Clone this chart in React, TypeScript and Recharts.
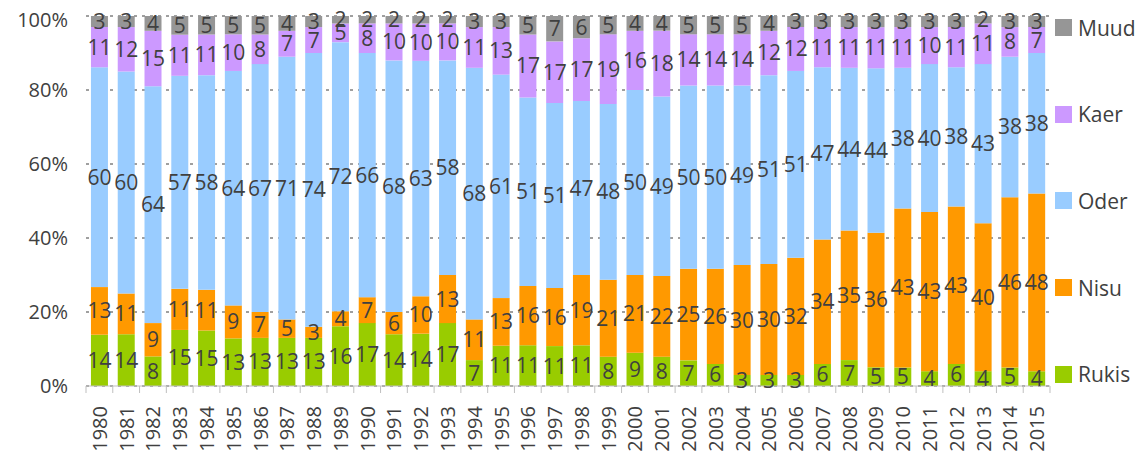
import React from "react";
import { BarChart, Bar, XAxis, YAxis, CartesianGrid, LabelList } from "recharts";

const years = ["1980","1981","1982","1983","1984","1985","1986","1987","1988","1989","1990","1991","1992","1993","1994","1995","1996","1997","1998","1999","2000","2001","2002","2003","2004","2005","2006","2007","2008","2009","2010","2011","2012","2013","2014","2015"];
const rukis = [14,14,8,15,15,13,13,13,13,16,17,14,14,17,7,11,11,11,11,8,9,8,7,6,3,3,3,6,7,5,5,4,6,4,5,4];
const nisu = [13,11,9,11,11,9,7,5,3,4,7,6,10,13,11,13,16,16,19,21,21,22,25,26,30,30,32,34,35,36,43,43,43,40,46,48];
const oder = [60,60,64,57,58,64,67,71,74,72,66,68,63,58,68,61,51,51,47,48,50,49,50,50,49,51,51,47,44,44,38,40,38,43,38,38];
const kaer = [11,12,15,11,11,10,8,7,7,5,8,10,10,10,11,13,17,17,17,19,16,18,14,14,14,12,12,11,11,11,11,10,11,11,8,7];
const muud = [3,3,4,5,5,5,5,4,3,2,2,2,2,2,3,3,5,7,6,5,4,4,5,5,5,4,3,3,3,3,3,3,3,2,3,3];
const yTicks = [0, 0.2, 0.4, 0.6, 0.8, 1];

const series = [
  { key: "Rukis", color: "#99CC00" },
  { key: "Nisu", color: "#FF9900" },
  { key: "Oder", color: "#99CCFF" },
  { key: "Kaer", color: "#CC99FF" },
  { key: "Muud", color: "#969696" },
];

const data = years.map((y, i) => ({
  year: y,
  Rukis: rukis[i],
  Nisu: nisu[i],
  Oder: oder[i],
  Kaer: kaer[i],
  Muud: muud[i],
}));

const FONT = "'Open Sans', 'Noto Sans', sans-serif";
const TEXT = "#404040";
const W = 1140;
const H = 453;
const M = { top: 8, right: 98, bottom: 5, left: 18 };
const Y_W = 60;
const PLOT_W = W - M.left - M.right - Y_W;
const STEP = PLOT_W / years.length;

const XTick = (props: any) => {
  const { x, y, payload, index } = props;
  const last = index === years.length - 1;
  return (
    <g>
      <line x1={x - STEP / 2} x2={x - STEP / 2} y1={y} y2={y + 7} stroke="#BFBFBF" />
      {last && <line x1={x + STEP / 2} x2={x + STEP / 2} y1={y} y2={y + 7} stroke="#BFBFBF" />}
      <text
        x={x}
        y={y + 20}
        transform={`rotate(-90, ${x}, ${y + 20})`}
        textAnchor="end"
        dominantBaseline="central"
        fill={TEXT}
        fontSize={20}
        fontFamily={FONT}
      >
        {payload.value}
      </text>
    </g>
  );
};

export default function App() {
  const legendItems = [...series].reverse();
  return (
    <div style={{ position: "relative", width: W, height: H }}>
      <BarChart
        width={W}
        height={H}
        data={data}
        stackOffset="expand"
        barCategoryGap="18.5%"
        margin={M}
      >
        <CartesianGrid vertical={false} stroke="#404040" strokeDasharray="3 5" />
        <XAxis
          dataKey="year"
          interval={0}
          height={70}
          tickSize={0}
          tickMargin={0}
          axisLine={{ stroke: "#BFBFBF" }}
          tick={<XTick />}
        />
        <YAxis
          width={Y_W}
          domain={[0, 1]}
          ticks={yTicks}
          axisLine={false}
          tickLine={false}
          tickSize={6}
          tickMargin={12}
          tickFormatter={(v: number) => `${Math.round(v * 100)}%`}
          tick={{ fill: TEXT, fontSize: 20, fontFamily: FONT }}
        />
        {series.map((s) => (
          <Bar key={s.key} dataKey={s.key} stackId="a" fill={s.color} isAnimationActive={false}>
            <LabelList
              dataKey={s.key}
              position="center"
              fill={TEXT}
              fontSize={21}
              fontFamily={FONT}
            />
          </Bar>
        ))}
      </BarChart>
      {legendItems.map((s, i) => (
        <div
          key={s.key}
          style={{
            position: "absolute",
            left: 1047,
            top: 19.7 + i * 86.6 - 12,
            height: 24,
            display: "flex",
            alignItems: "center",
            fontFamily: FONT,
            fontSize: 21,
            color: TEXT,
            whiteSpace: "nowrap",
          }}
        >
          <span style={{ display: "inline-block", width: 17, height: 17, background: s.color, marginRight: 6 }} />
          <span>{s.key}</span>
        </div>
      ))}
    </div>
  );
}
